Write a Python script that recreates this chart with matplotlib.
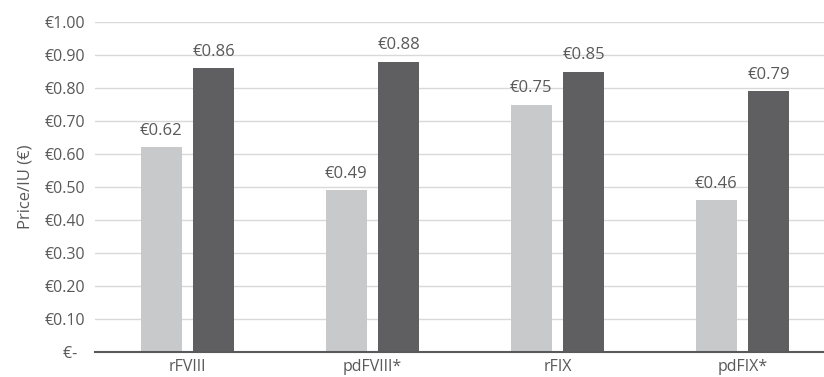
import matplotlib
matplotlib.use('Agg')
import matplotlib.pyplot as plt
import numpy as np

# price per IU, two price points per product
products = ['rFVIII', 'pdFVIII*', 'rFIX', 'pdFIX*']
price_low = [0.62, 0.49, 0.75, 0.46]
price_high = [0.86, 0.88, 0.85, 0.79]
yticks = [0.0, 0.1, 0.2, 0.3, 0.4, 0.5, 0.6, 0.7, 0.8, 0.9, 1.0]
ytick_labels = ['€-  ', '€0.10', '€0.20', '€0.30', '€0.40', '€0.50',
                '€0.60', '€0.70', '€0.80', '€0.90', '€1.00']

plt.rcParams['font.family'] = ['Open Sans', 'DejaVu Sans']
txt = '#595959'

fig = plt.figure(figsize=(8.24, 3.77), dpi=100)
# plot area runs a little past the right edge of the canvas
ax = fig.add_axes([95 / 824, 25 / 377, 740 / 824, 330 / 377])

x = np.arange(len(products))
w = 0.222
off = 0.143
ax.bar(x - off, price_low, w, color='#c8c9ca', zorder=3)
ax.bar(x + off, price_high, w, color='#5f5f61', zorder=3)

for xi, v in zip(x - off, price_low):
    ax.text(xi, v + 0.025, f'€{v:.2f}', ha='center', va='bottom',
            fontsize=12, color=txt)
for xi, v in zip(x + off, price_high):
    ax.text(xi, v + 0.025, f'€{v:.2f}', ha='center', va='bottom',
            fontsize=12, color=txt)

ax.set_xlim(-0.5, len(products) - 0.5)
ax.set_ylim(0, 1.0)
ax.set_yticks(yticks)
ax.set_yticklabels(ytick_labels)
ax.set_xticks(x)
ax.set_xticklabels(products)
ax.tick_params(axis='both', length=0, labelsize=11.5, colors=txt)
ax.tick_params(axis='y', pad=7)
ax.tick_params(axis='x', pad=5)
ax.set_ylabel('Price/IU (€)', fontsize=12, color=txt, labelpad=8)

ax.grid(axis='y', color='#d9d9d9', linewidth=1, zorder=0)
for s in ['top', 'right', 'left']:
    ax.spines[s].set_visible(False)
ax.spines['bottom'].set_color('#595959')
ax.spines['bottom'].set_linewidth(1.5)
ax.spines['bottom'].set_zorder(4)

fig.savefig('out.png', dpi=100)
